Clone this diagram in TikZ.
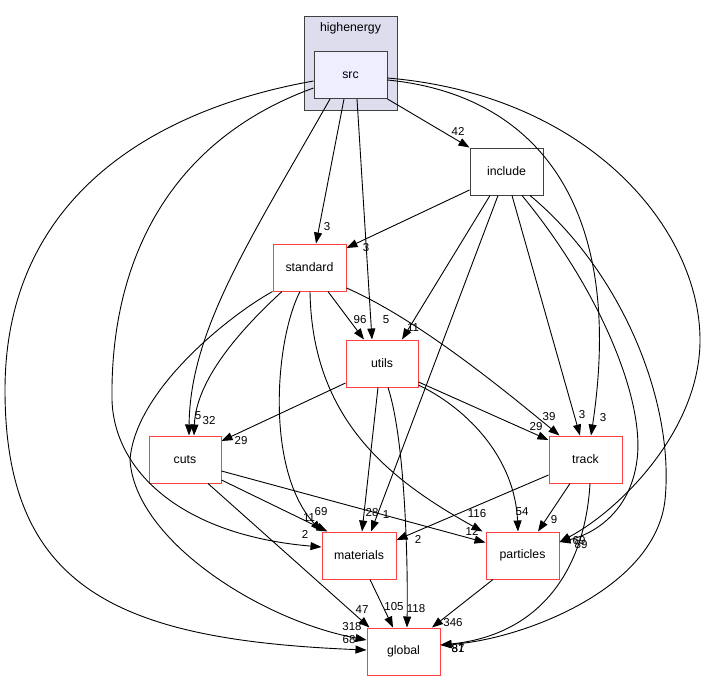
\documentclass[tikz,border=0pt]{standalone}
\usepackage{fontspec}
\setmainfont{Liberation Sans}
\usetikzlibrary{arrows.meta}
\definecolor{redb}{RGB}{255,64,64}
\definecolor{grayb}{RGB}{64,64,64}
\definecolor{clusterfill}{RGB}{221,221,238}
\definecolor{srcfill}{RGB}{238,238,255}
\begin{document}
\begin{tikzpicture}[x=1pt,y=-1pt,
  dirbox/.style={draw=redb, line width=1pt, fill=white, minimum width=73pt, minimum height=47pt, inner sep=0pt, font=\fontsize{12.3}{14}\selectfont},
  incbox/.style={dirbox, draw=grayb},
  srcbox/.style={dirbox, draw=grayb, fill=srcfill},
  clusterbox/.style={draw=grayb, line width=1pt, fill=clusterfill},
  edge/.style={draw=black, line width=0.9pt, -{Triangle[length=11pt,width=8pt]}},
  lbl/.style={inner sep=0pt, font=\fontsize{11.5}{13}\selectfont}
]
\useasboundingbox (0,0) rectangle (703,681);
\fill[white] (0,0) rectangle (703,681);

% cluster
\draw[clusterbox] (304,16) rectangle (397,110);
\node[inner sep=0pt, font=\fontsize{12.3}{14}\selectfont] (hetitle) at (350.5,28) {highenergy};

% nodes
\node[srcbox] (src) at (350.5,75) {src};
\node[incbox] (include) at (506.5,171.5) {include};
\node[dirbox] (standard) at (309.5,267.5) {standard};
\node[dirbox, minimum width=72pt] (utils) at (382,363.5) {utils};
\node[dirbox, minimum width=72pt] (cuts) at (185,459.5) {cuts};
\node[dirbox] (track) at (585.5,459.5) {track};
\node[dirbox, minimum width=74pt] (materials) at (359,555.5) {materials};
\node[dirbox] (particles) at (522.5,555.5) {particles};
\node[dirbox] (global) at (403.5,651.5) {global};

% src edges
\draw[edge] (src.south east) -- (include.north west);
\draw[edge] ([xshift=-6.5pt]src.south) -- ([xshift=6.5pt]standard.north);
\draw[edge] ([xshift=6.5pt]src.south) -- ([xshift=-10pt]utils.north);
\draw[edge] ([xshift=-20.5pt]src.south) .. controls (250,240) and (190,330) .. ([xshift=4pt]cuts.north);
\draw[edge] ([yshift=-6pt]src.west) .. controls (150,110) and (5,200) .. (5,390) .. controls (5,590) and (120,640) .. ([yshift=1.5pt]global.west);
\draw[edge] ([yshift=-13pt]src.west) .. controls (170,140) and (110,260) .. (112,400) .. controls (114,470) and (180,535) .. ([yshift=8.5pt]materials.west);
\draw[edge] ([yshift=-5pt]src.east) .. controls (540,95) and (625,210) .. ([xshift=5.5pt]track.north);
\draw[edge] ([yshift=-3pt]src.east) .. controls (590,95) and (700,230) .. (700,340) .. controls (700,430) and (620,510) .. ([yshift=13.5pt]particles.east);

% include edges
\draw[edge] ([yshift=-18.5pt]include.west) -- ([yshift=19.5pt]standard.east);
\draw[edge] ([xshift=-16.5pt]include.south) -- ([xshift=20pt]utils.north);
\draw[edge] ([xshift=-8.5pt]include.south) -- ([xshift=12pt]materials.north);
\draw[edge] ([xshift=5.5pt]include.south) -- ([xshift=-5.5pt]track.north);
\draw[edge] ([xshift=15.5pt]include.south) .. controls (600,290) and (645,400) .. (637,460) .. controls (630,515) and (590,535) .. ([yshift=13.5pt]particles.east);
\draw[edge] ([xshift=23.5pt]include.south) .. controls (620,270) and (675,400) .. (665,500) .. controls (655,590) and (520,640) .. ([yshift=6.5pt]global.east);

% standard edges
\draw[edge] ([xshift=18.5pt]standard.south) -- ([xshift=-18pt]utils.north);
\draw[edge] ([yshift=-20.5pt]standard.east) .. controls (420,320) and (510,395) .. ([xshift=11pt]track.north west);
\draw[edge] ([xshift=-27.5pt]standard.south) .. controls (240,330) and (196,380) .. ([xshift=9pt]cuts.north);
\draw[edge] ([xshift=-9.5pt]standard.south) .. controls (275,340) and (265,470) .. (materials.north west);
\draw[edge] ([xshift=0.5pt]standard.south) .. controls (312,420) and (390,480) .. ([xshift=-3pt]particles.north west);
\draw[edge] (standard.south west) .. controls (230,315) and (135,390) .. (130,460) .. controls (135,540) and (260,620) .. ([yshift=11.5pt]global.west);

% utils edges
\draw[edge] ([yshift=-19.5pt]utils.west) -- ([yshift=18.5pt]cuts.east);
\draw[edge] ([yshift=-18.5pt]utils.east) -- ([yshift=19.5pt]track.west);
\draw[edge] ([xshift=-4pt]utils.south) -- ([xshift=3pt]materials.north);
\draw[edge] ([xshift=6pt]utils.south) .. controls (405,440) and (408,560) .. ([xshift=3.5pt]global.north);
\draw[edge] ([yshift=-21.5pt]utils.east) .. controls (470,410) and (515,460) .. ([xshift=-4.5pt]particles.north);

% cuts edges
\draw[edge] ([yshift=-20.5pt]cuts.east) -- ([xshift=6pt]materials.north west);
\draw[edge] ([yshift=-11.5pt]cuts.east) -- ([yshift=13pt]particles.west);
\draw[edge] ([xshift=23pt]cuts.south) -- ([xshift=3pt]global.north west);

% track edges
\draw[edge] ([yshift=-15.5pt]track.west) -- ([yshift=15.5pt]materials.east);
\draw[edge] ([xshift=-15.5pt]track.south) -- ([xshift=15.5pt]particles.north);
\draw[edge] ([xshift=4.5pt]track.south) .. controls (585,570) and (540,635) .. ([yshift=6.5pt]global.east);

% materials, particles
\draw[edge] ([xshift=11pt]materials.south) -- ([xshift=-10.5pt]global.north);
\draw[edge] ([xshift=-29.5pt]particles.south) -- ([xshift=28.5pt]global.north);

% labels
\node[lbl] (l1) at (458,131) {42};
\node[lbl] (l2) at (327,227) {3};
\node[lbl] (l3) at (386,320) {5};
\node[lbl] (l4) at (198,416) {5};
\node[lbl] (l5) at (349,640) {68};
\node[lbl] (l6) at (305,534) {2};
\node[lbl] (l7) at (603,418) {3};
\node[lbl] (l8) at (579,541) {69};
\node[lbl] (l9) at (366,248) {3};
\node[lbl] (l10) at (413,328) {11};
\node[lbl] (l11) at (386,515) {1};
\node[lbl] (l12) at (582,415) {3};
\node[lbl] (l13) at (581,545) {89};
\node[lbl] (l14) at (458,649) {87};
\node[lbl] (l15) at (360,320) {96};
\node[lbl] (l16) at (549,417) {39};
\node[lbl] (l17) at (209,421) {32};
\node[lbl] (l18) at (321,512) {69};
\node[lbl] (l19) at (477,514) {116};
\node[lbl] (l20) at (352,627) {318};
\node[lbl] (l21) at (241,441) {29};
\node[lbl] (l22) at (536,427) {29};
\node[lbl] (l23) at (372,513) {28};
\node[lbl] (l24) at (416,609) {118};
\node[lbl] (l25) at (522,512) {54};
\node[lbl] (l26) at (309,518) {11};
\node[lbl] (l27) at (472,531) {12};
\node[lbl] (l28) at (362,610) {47};
\node[lbl] (l29) at (418,539) {2};
\node[lbl] (l30) at (554,520) {9};
\node[lbl] (l31) at (458,649) {81};
\node[lbl] (l32) at (394,607) {105};
\node[lbl] (l33) at (453,623) {346};
\end{tikzpicture}
\end{document}
